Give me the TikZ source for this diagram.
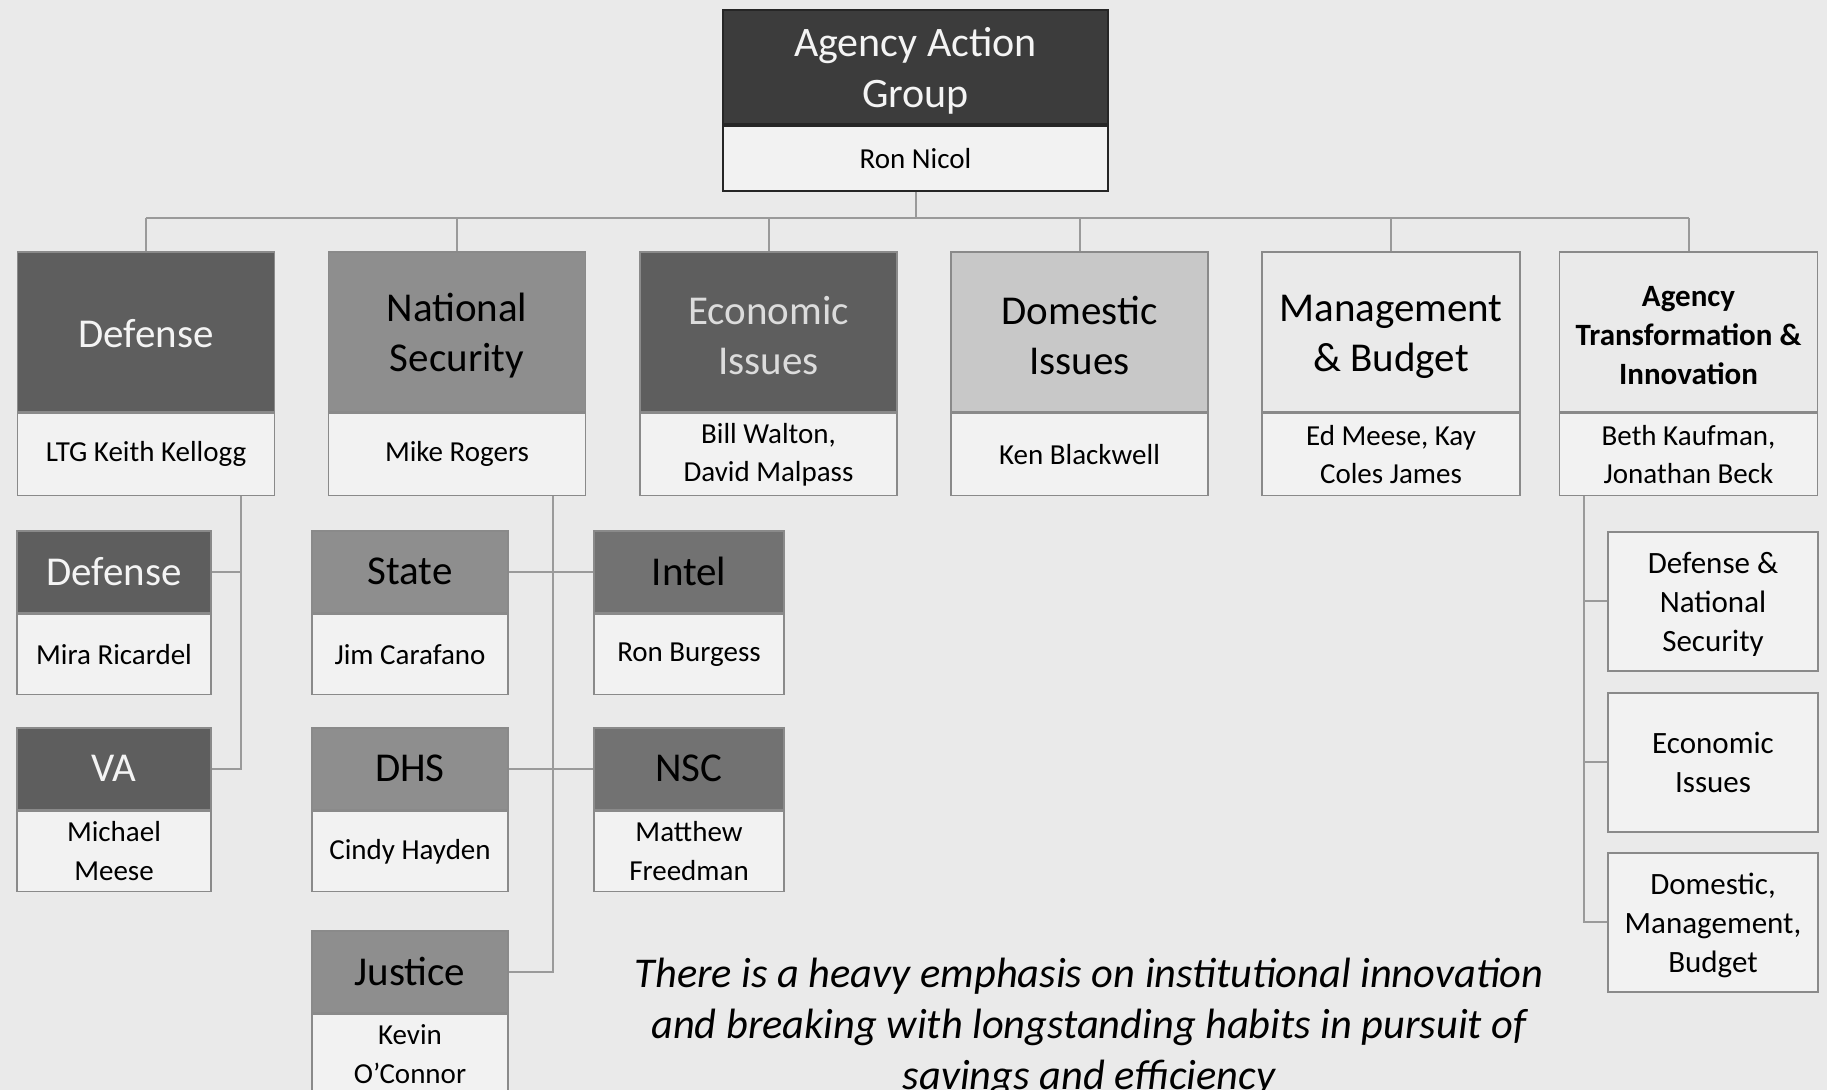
\documentclass[tikz,border=0pt]{standalone}
\usepackage{fontspec}
\setmainfont{Carlito}

\definecolor{paper}{HTML}{EAEAEA}
\definecolor{namefill}{HTML}{F2F2F2}
\definecolor{topdark}{HTML}{3C3C3C}
\definecolor{darkhdr}{HTML}{5E5E5E}
\definecolor{midhdr}{HTML}{8E8E8E}
\definecolor{intelhdr}{HTML}{727272}
\definecolor{lighthdr}{HTML}{C8C8C8}
\definecolor{boxline}{HTML}{8A8A8A}
\definecolor{connline}{HTML}{9A9A9A}
\definecolor{lighttext}{HTML}{F4F4F4}

% struts that lower the first line of multi-line headings a little
\newcommand{\bigstrut}{\rule{0pt}{18pt}}
\newcommand{\midstrut}{\rule{0pt}{13.5pt}}

\begin{document}
\begin{tikzpicture}[x=0.5pt,y=-0.5pt,
  part/.style={draw=boxline, line width=0.8pt, align=center, inner sep=1pt, anchor=north},
  % level-one boxes
  hdrone/.style={part, minimum width=128.5pt, minimum height=80pt,
    font=\fontsize{20.5pt}{25pt}\selectfont},
  nameone/.style={part, fill=namefill, minimum width=128.5pt, minimum height=41pt,
    font=\fontsize{14.5pt}{19pt}\selectfont},
  % level-two boxes
  hdrtwo/.style={part, minimum height=41pt, font=\fontsize{20.5pt}{25pt}\selectfont},
  nametwo/.style={part, fill=namefill, minimum height=40pt,
    font=\fontsize{14.5pt}{19.5pt}\selectfont},
  % plain boxes under the transformation group
  plainbox/.style={part, fill=namefill, minimum width=105pt, minimum height=69.5pt,
    font=\fontsize{15.5pt}{19.5pt}\selectfont},
  conn/.style={draw=connline, line width=1pt},
  note/.style={align=center, font=\fontsize{21.2pt}{25.5pt}\selectfont\itshape}
]
\fill[paper] (0,0) rectangle (1827,1090);
\useasboundingbox (0,0) rectangle (1827,1090);
\clip (0,0) rectangle (1827,1090);

% ---- top box ----
\node[part, draw=black!85, line width=1pt, fill=topdark, text=lighttext,
      minimum width=192.5pt, minimum height=57pt,
      font=\fontsize{21pt}{25.5pt}\selectfont] (aag) at (915.5,9)
      {\bigstrut Agency Action\\Group};
\node[part, draw=black!85, line width=1pt, fill=namefill,
      minimum width=192.5pt, minimum height=32.5pt,
      font=\fontsize{14.5pt}{19pt}\selectfont] (aagn) at (aag.south) {Ron Nicol};

% ---- level one ----
\node[hdrone, fill=darkhdr, text=lighttext] (def) at (146,251) {\rule{0pt}{16pt}Defense};
\node[nameone] (defn) at (def.south) {LTG Keith Kellogg};

\node[hdrone, fill=midhdr] (ns) at (457,251) {\bigstrut National\\Security};
\node[nameone] (nsn) at (ns.south) {Mike Rogers};

\node[hdrone, fill=darkhdr, text=lighttext!90!black] (eco) at (768.5,251) {\bigstrut Economic\\Issues};
\node[nameone] (econ) at (eco.south) {Bill Walton,\\David Malpass};

\node[hdrone, fill=lighthdr] (dom) at (1079.5,251) {\bigstrut Domestic\\Issues};
\node[nameone] (domn) at (dom.south) {Ken Blackwell};

\node[hdrone, fill=paper, minimum width=129pt] (mgt) at (1391,251) {\bigstrut Management\\\& Budget};
\node[nameone, minimum width=129pt] (mgtn) at (mgt.south) {Ed Meese, Kay\\Coles James};

\node[hdrone, fill=paper, minimum width=129pt,
      font=\fontsize{15.5pt}{19.5pt}\selectfont\bfseries] (ati) at (1688.5,251)
      {\midstrut Agency\\Transformation \&\\Innovation};
\node[nameone, minimum width=129pt] (atin) at (ati.south) {Beth Kaufman,\\Jonathan Beck};

% ---- defense column ----
\node[hdrtwo, fill=darkhdr, text=lighttext, minimum width=96.75pt] (dsub) at (114,530) {Defense};
\node[nametwo, minimum width=96.75pt] (dsubn) at (dsub.south) {Mira Ricardel};
\node[hdrtwo, fill=darkhdr, text=lighttext, minimum width=96.75pt] (va) at (114,727) {VA};
\node[nametwo, minimum width=96.75pt] (van) at (va.south) {Michael\\Meese};

% ---- national security columns ----
\node[hdrtwo, fill=midhdr, minimum width=98pt] (state) at (410,530) {State};
\node[nametwo, minimum width=98pt] (staten) at (state.south) {Jim Carafano};
\node[hdrtwo, fill=intelhdr, minimum width=95pt] (intel) at (689,530) {Intel};
\node[nametwo, minimum width=95pt] (inteln) at (intel.south) {Ron Burgess};
\node[hdrtwo, fill=midhdr, minimum width=98pt] (dhs) at (410,727) {DHS};
\node[nametwo, minimum width=98pt] (dhsn) at (dhs.south) {Cindy Hayden};
\node[hdrtwo, fill=intelhdr, minimum width=95pt] (nsc) at (689,727) {NSC};
\node[nametwo, minimum width=95pt] (nscn) at (nsc.south) {Matthew\\Freedman};
\node[hdrtwo, fill=midhdr, minimum width=98pt] (jus) at (410,930) {Justice};
\node[nametwo, minimum width=98pt] (jusn) at (jus.south) {Kevin\\O’Connor};

% ---- transformation group column ----
\node[plainbox] (tdef) at (1713,531) {\midstrut Defense \&\\National\\Security};
\node[plainbox] (teco) at (1713,692) {Economic\\Issues};
\node[plainbox] (tdom) at (1713,852) {\midstrut Domestic,\\Management,\\Budget};

% ---- connectors ----
\coordinate (bus) at (915.5,218);
\draw[conn] (aagn.south) -- (bus);
\draw[conn] (def.north |- bus) -- (ati.north |- bus);
\foreach \n in {def,ns,eco,dom,mgt,ati}
  \draw[conn] (\n.north) -- (\n.north |- bus);

\coordinate (defbus) at (241,0);
\draw[conn] (defbus |- defn.south) |- (va.east);
\draw[conn] (dsub.east) -- (dsub.east -| defbus);

\coordinate (nsbus) at (553,0);
\draw[conn] (nsbus |- nsn.south) |- (jus.east);
\draw[conn] (state.east) -- (intel.west);
\draw[conn] (dhs.east) -- (nsc.west);

\coordinate (atibus) at (1584,0);
\draw[conn] (atibus |- atin.south) |- (tdom.west);
\draw[conn] (tdef.west) -- (tdef.west -| atibus);
\draw[conn] (teco.west) -- (teco.west -| atibus);

% ---- closing remark ----
\node[note] (remark) at (1089,1027)
  {There is a heavy emphasis on institutional innovation\\
   and breaking with longstanding habits in pursuit of\\
   savings and efficiency};
\end{tikzpicture}
\end{document}
